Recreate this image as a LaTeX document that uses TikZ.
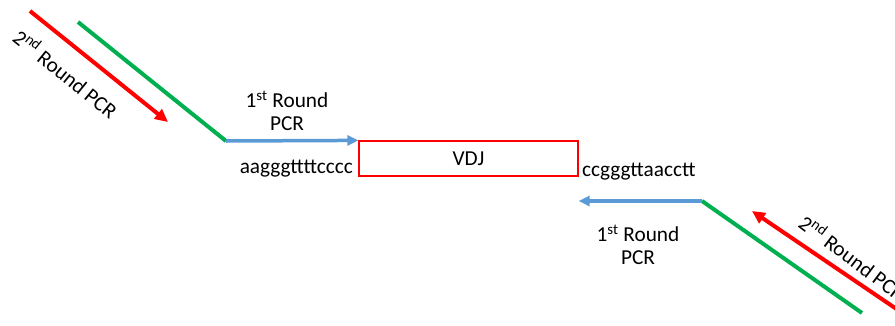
\documentclass[tikz,border=0pt]{standalone}
\usepackage{fontspec}
\setmainfont{Carlito}
\usetikzlibrary{arrows.meta}

\definecolor{pcrred}{RGB}{255,0,0}
\definecolor{pcrgreen}{RGB}{0,176,80}
\definecolor{pcrblue}{RGB}{91,155,213}

\begin{document}
\begin{tikzpicture}[x=1pt,y=-1pt,
	font=\fontsize{21.3}{23}\selectfont,
	secondpcr/.style={pcrred,line width=4pt,-{Triangle[length=13pt,width=12pt]}},
	firstpcr/.style={pcrblue,line width=3.5pt,-{Triangle[length=11pt,width=10pt]}},
	adapter/.style={pcrgreen,line width=4pt},
	lbl/.style={align=center,inner sep=0pt}]

	\useasboundingbox (0,0) rectangle (895,325);

	% VDJ region
	\node[draw=pcrred,line width=1.2pt,minimum width=219pt,minimum height=35pt,inner sep=0pt] (vdj) at (468.5,158.5) {VDJ};

	% left side
	\coordinate (redA) at (30,11);
	\coordinate (redAtip) at (168,122);
	\coordinate (greenA) at (78,22);
	\coordinate (kneeA) at (226,141);

	\draw[adapter] (greenA) -- (kneeA);
	\draw[firstpcr] (kneeA) -- (vdj.north west);
	\draw[secondpcr] (redA) -- (redAtip);

	% right side
	\coordinate (redB) at (898,310);
	\coordinate (redBtip) at (752,211);
	\coordinate (greenB) at (862,313);
	\coordinate (kneeB) at (702,201);

	\draw[adapter] (kneeB) -- (greenB);
	\draw[firstpcr] (kneeB) -- (vdj.east |- kneeB);
	\draw[secondpcr] (redB) -- (redBtip);

	% sequences
	\node[anchor=base east,inner sep=0pt] (seqA) at (353,173) {aagggttttcccc};
	\node[anchor=base west,inner sep=0pt] (seqB) at (582,176) {ccgggttaacctt};

	% labels
	\node[lbl] (roundA) at (287,111) {1\textsuperscript{st} Round\\PCR};
	\node[lbl] (roundB) at (638,245) {1\textsuperscript{st} Round\\PCR};
	\node[rotate=-39,inner sep=0pt] (secondA) at (66,73) {2\textsuperscript{nd} Round PCR};
	\node[rotate=-37,inner sep=0pt] (secondB) at (853,257) {2\textsuperscript{nd} Round PCR};

\end{tikzpicture}
\end{document}
